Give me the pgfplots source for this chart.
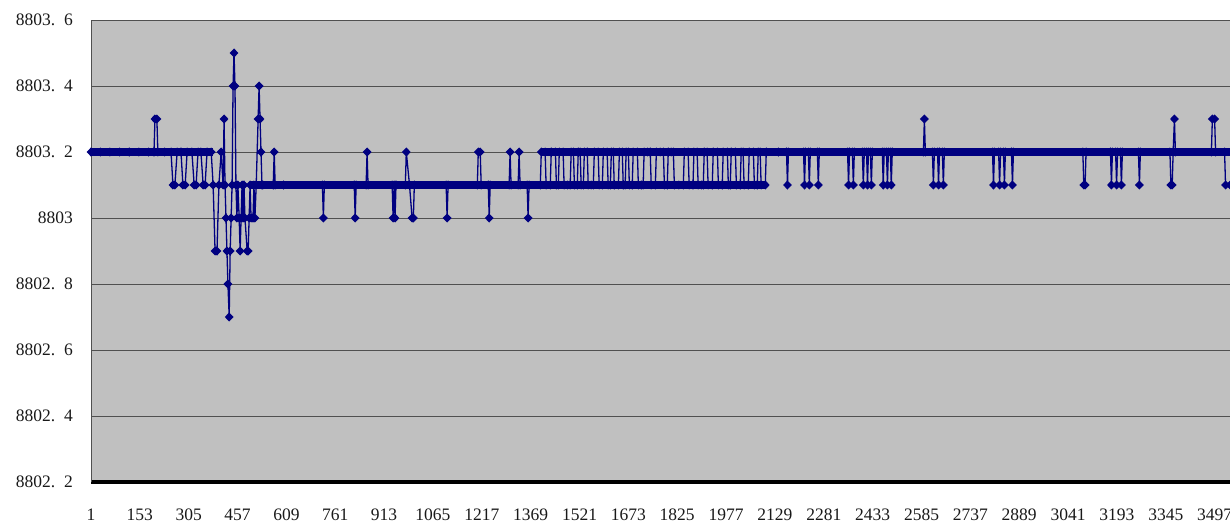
\documentclass[border=0pt]{standalone}
\usepackage{fontspec}
\setmainfont{Liberation Serif}
\usepackage{pgfplots}
\pgfplotsset{compat=1.18}
\definecolor{plotbg}{RGB}{192,192,192}
\definecolor{series}{RGB}{0,0,128}
\definecolor{gridc}{RGB}{80,80,80}
\begin{document}
\begin{tikzpicture}
\begin{axis}[
  scale only axis,
  width=1139pt, height=462pt,
  xmin=1, xmax=3545,
  ymin=8802.2, ymax=8803.6,
  axis background/.style={fill=plotbg},
  axis x line*=bottom,
  axis y line*=left,
  x axis line style={-, black, line width=4pt},
  y axis line style={-, gridc, line width=1pt},
  ymajorgrids, grid style={gridc, line width=1pt},
  major tick length=0pt,
  xtick={1,153,305,457,609,761,913,1065,1217,1369,1521,1673,1825,1977,2129,2281,2433,2585,2737,2889,3041,3193,3345,3497},
  xticklabels={1,153,305,457,609,761,913,1065,1217,1369,1521,1673,1825,1977,2129,2281,2433,2585,2737,2889,3041,3193,3345,3497},
  ytick={8802.2,8802.4,8802.6,8802.8,8803.0,8803.2,8803.4,8803.6},
  yticklabels={8802.\hspace{0.5em}2,8802.\hspace{0.5em}4,8802.\hspace{0.5em}6,8802.\hspace{0.5em}8,8803,8803.\hspace{0.5em}2,8803.\hspace{0.5em}4,8803.\hspace{0.5em}6},
  xticklabel style={font=\fontsize{17.5}{20}\selectfont, text=black!90, inner sep=0pt, anchor=north, yshift=-27pt},
  yticklabel style={font=\fontsize{17.5}{20}\selectfont, text=black!90, inner sep=0pt, anchor=east, xshift=-18pt},
]
% thick bands where the readings sit on one level for a long run
\addplot[series, line width=7.5pt, forget plot] coordinates {(1,8803.2)(380,8803.2)};
\addplot[series, line width=7.5pt, forget plot] coordinates {(1400,8803.2)(3545,8803.2)};
\addplot[series, line width=7.5pt, forget plot] coordinates {(499,8803.1)(2102,8803.1)};
% the readings
\addplot[series, line width=1.3pt, mark=diamond*, mark size=3.6pt, mark options={xscale=1.3, solid}]
coordinates {
(1,8803.2)(30,8803.2)(60,8803.2)(90,8803.2)(120,8803.2)(150,8803.2)(180,8803.2)(197,8803.2)
(200,8803.3)(206,8803.3)(209,8803.2)(230,8803.2)(250,8803.2)
(256,8803.1)(262,8803.1)(269,8803.2)(281,8803.2)(287,8803.1)(294,8803.1)(300,8803.2)(315,8803.2)
(322,8803.1)(328,8803.1)(334,8803.2)(343,8803.2)(350,8803.1)(356,8803.1)(362,8803.2)(375,8803.2)
(381,8803.1)(387,8802.9)(393,8802.9)(399,8803.1)(406,8803.2)(412,8803.1)(415,8803.3)(418,8803.1)
(421,8803.0)(424,8802.9)(427,8802.8)(431,8802.7)(434,8802.9)(437,8803.0)(440,8803.1)(443,8803.4)
(446,8803.5)(449,8803.4)(452,8803.1)(455,8803.0)(458,8803.1)(462,8803.0)(465,8802.9)(468,8803.0)
(471,8803.1)(474,8803.0)(477,8803.1)(480,8803.0)(487,8802.9)(490,8802.9)(493,8803.0)(496,8803.1)
(499,8803.0)(505,8803.0)(508,8803.1)(511,8803.0)(515,8803.1)(521,8803.3)(524,8803.4)(527,8803.3)
(530,8803.2)(533,8803.1)(536,8803.1)(568,8803.1)(571,8803.2)(574,8803.1)
(600,8803.1)(721,8803.1)(724,8803.0)(727,8803.1)(820,8803.1)(823,8803.0)(826,8803.1)
(857,8803.1)(860,8803.2)(863,8803.1)(938,8803.1)(941,8803.0)(944,8803.1)(947,8803.0)(950,8803.1)
(979,8803.1)(982,8803.2)(992,8803.1)(1000,8803.0)(1004,8803.0)(1007,8803.1)
(1106,8803.1)(1109,8803.0)(1112,8803.1)(1203,8803.1)(1206,8803.2)(1212,8803.2)(1215,8803.1)
(1237,8803.1)(1240,8803.0)(1243,8803.1)(1302,8803.1)(1305,8803.2)(1308,8803.1)
(1330,8803.1)(1333,8803.2)(1336,8803.1)(1358,8803.1)(1361,8803.0)(1364,8803.1)(1399,8803.1)
(1402,8803.2)(1414,8803.2)(1417,8803.1)(1430,8803.1)(1433,8803.2)(1446,8803.2)(1449,8803.1)(1455,8803.1)
(1458,8803.2)(1470,8803.2)(1473,8803.1)(1484,8803.1)(1492,8803.1)(1495,8803.2)(1502,8803.2)
(1505,8803.1)(1514,8803.1)(1517,8803.2)(1523,8803.2)(1526,8803.1)(1533,8803.1)(1536,8803.2)(1545,8803.2)
(1548,8803.1)(1557,8803.1)(1564,8803.1)(1567,8803.2)(1579,8803.2)(1582,8803.1)(1592,8803.1)
(1595,8803.2)(1607,8803.2)(1610,8803.1)(1617,8803.1)(1620,8803.2)(1626,8803.2)(1629,8803.1)(1642,8803.1)
(1645,8803.2)(1654,8803.2)(1657,8803.1)(1663,8803.1)(1666,8803.2)(1673,8803.2)(1676,8803.1)(1685,8803.1)
(1688,8803.2)(1701,8803.2)(1704,8803.1)(1713,8803.1)(1719,8803.1)(1722,8803.2)(1733,8803.2)(1741,8803.2)
(1744,8803.1)(1757,8803.1)(1760,8803.2)(1772,8803.2)(1782,8803.2)(1785,8803.1)(1794,8803.1)
(1797,8803.2)(1806,8803.2)(1813,8803.2)(1816,8803.1)(1830,8803.1)(1844,8803.1)
(1847,8803.2)(1859,8803.2)(1862,8803.1)(1874,8803.1)(1877,8803.2)(1887,8803.2)
(1890,8803.1)(1900,8803.1)(1906,8803.1)(1909,8803.2)(1918,8803.2)(1921,8803.1)(1934,8803.1)
(1937,8803.2)(1950,8803.2)(1953,8803.1)(1965,8803.1)(1968,8803.2)(1981,8803.2)(1984,8803.1)(1990,8803.1)
(1993,8803.2)(2006,8803.2)(2009,8803.1)(2021,8803.1)(2024,8803.2)(2030,8803.2)(2033,8803.1)(2046,8803.1)
(2049,8803.2)(2062,8803.2)(2065,8803.1)(2074,8803.1)(2077,8803.2)(2083,8803.2)(2086,8803.1)(2099,8803.1)
(2102,8803.2)(2140,8803.2)(2165,8803.2)(2168,8803.1)(2171,8803.2)(2218,8803.2)(2221,8803.1)(2224,8803.2)
(2233,8803.2)(2236,8803.1)(2239,8803.2)(2261,8803.2)(2264,8803.1)(2267,8803.2)
(2355,8803.2)(2358,8803.1)(2361,8803.2)(2370,8803.2)(2373,8803.1)(2376,8803.2)
(2401,8803.2)(2404,8803.1)(2407,8803.2)(2414,8803.2)(2417,8803.1)(2420,8803.2)(2426,8803.2)(2429,8803.1)(2432,8803.2)
(2463,8803.2)(2466,8803.1)(2469,8803.2)(2476,8803.2)(2479,8803.1)(2482,8803.2)(2488,8803.2)(2491,8803.1)(2494,8803.2)
(2591,8803.2)(2594,8803.3)(2597,8803.2)(2619,8803.2)(2622,8803.1)(2625,8803.2)
(2635,8803.2)(2638,8803.1)(2641,8803.2)(2650,8803.2)(2653,8803.1)(2656,8803.2)
(2806,8803.2)(2809,8803.1)(2812,8803.2)(2825,8803.2)(2828,8803.1)(2831,8803.2)
(2840,8803.2)(2843,8803.1)(2846,8803.2)(2865,8803.2)(2868,8803.1)(2871,8803.2)
(3087,8803.2)(3090,8803.1)(3094,8803.1)(3097,8803.2)(3173,8803.2)(3176,8803.1)(3179,8803.2)
(3189,8803.2)(3192,8803.1)(3195,8803.2)(3204,8803.2)(3207,8803.1)(3210,8803.2)
(3260,8803.2)(3263,8803.1)(3266,8803.2)(3358,8803.2)(3361,8803.1)(3365,8803.1)(3368,8803.2)
(3372,8803.3)(3375,8803.2)(3487,8803.2)(3490,8803.3)(3497,8803.3)(3500,8803.2)
(3528,8803.2)(3531,8803.1)(3545,8803.1)
};
\end{axis}
\pgfresetboundingbox
\path[use as bounding box] (-91pt,-41pt) rectangle (1139pt,482pt);
\end{tikzpicture}
\end{document}
